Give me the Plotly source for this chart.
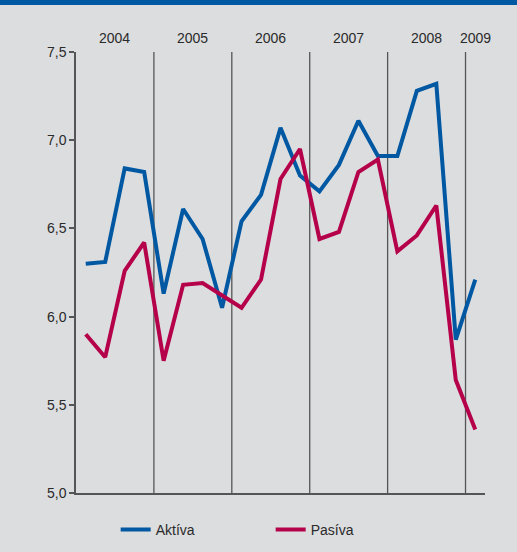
import plotly.graph_objects as go

years = ["2004", "2005", "2006", "2007", "2008", "2009"]
quarters_per_year = [4, 4, 4, 4, 4, 1]

aktiva = [6.30, 6.31, 6.84, 6.82,
          6.13, 6.61, 6.44, 6.05,
          6.54, 6.69, 7.07, 6.80,
          6.71, 6.86, 7.11, 6.91,
          6.91, 7.28, 7.32, 5.87,
          6.21]
pasiva = [5.90, 5.77, 6.26, 6.42,
          5.75, 6.18, 6.19, 6.12,
          6.05, 6.21, 6.78, 6.95,
          6.44, 6.48, 6.82, 6.89,
          6.37, 6.46, 6.63, 5.64,
          5.36]

y_ticks = [5.0, 5.5, 6.0, 6.5, 7.0, 7.5]
y_ticklabels = ["5,0", "5,5", "6,0", "6,5", "7,0", "7,5"]

BLUE = "#0058A3"
RED = "#B5004A"
BG = "#DCDDDF"
AXIS = "#555555"
TXT = "#2A2A2A"
FONT = "Liberation Sans"

n = len(aktiva)
xs = [i + 0.5 for i in range(n)]
total = sum(quarters_per_year)

fig = go.Figure()
fig.add_trace(go.Scatter(x=xs, y=aktiva, mode="lines", name="Aktíva",
                         line=dict(color=BLUE, width=4)))
fig.add_trace(go.Scatter(x=xs, y=pasiva, mode="lines", name="Pasíva",
                         line=dict(color=RED, width=4)))

shapes = []
annotations = []
start = 0
for yr, q in zip(years, quarters_per_year):
    end = start + q
    if end < total:
        shapes.append(dict(type="line", xref="x", yref="paper", x0=end, x1=end,
                           y0=0, y1=1, line=dict(color=AXIS, width=1.3), layer="below"))
    annotations.append(dict(x=(start + end) / 2, y=1, xref="x", yref="paper",
                            text=yr, showarrow=False, yanchor="bottom", yshift=4,
                            font=dict(family=FONT, size=14, color=TXT)))
    start = end

# blue top bar
shapes.append(dict(type="rect", xref="paper", yref="paper", x0=-0.3, x1=1.2,
                   y0=1.0 + 47 / 441, y1=1.2, fillcolor=BLUE, line=dict(width=0)))

fig.update_layout(
    width=517, height=552,
    margin=dict(l=76, r=32, t=52, b=59, autoexpand=False),
    paper_bgcolor=BG, plot_bgcolor=BG,
    font=dict(family=FONT, size=14, color=TXT),
    showlegend=True,
    legend=dict(orientation="h", x=0.097, xanchor="left",
                yref="container", y=1 - 530 / 552, yanchor="middle",
                font=dict(family=FONT, size=14, color=TXT),
                bgcolor="rgba(0,0,0,0)", entrywidth=110, entrywidthmode="pixels"),
    shapes=shapes,
    annotations=annotations,
    xaxis=dict(range=[0, total], showgrid=False, zeroline=False, showticklabels=False,
               ticks="", showline=True, linecolor=AXIS, linewidth=1.5, fixedrange=True),
    yaxis=dict(range=[5.0, 7.5], tickvals=y_ticks, ticktext=y_ticklabels,
               showgrid=False, zeroline=False, showline=True, linecolor=AXIS, linewidth=1.5,
               ticks="outside", ticklen=5, tickcolor=AXIS, tickwidth=1.5,
               tickfont=dict(family=FONT, size=14, color=TXT)),
)

fig.write_html("out.html",
               config={"displayModeBar": False},
               post_script="document.body.style.margin='0';"
                           "document.body.style.overflow='hidden';"
                           "document.body.style.background='" + BG + "';")
